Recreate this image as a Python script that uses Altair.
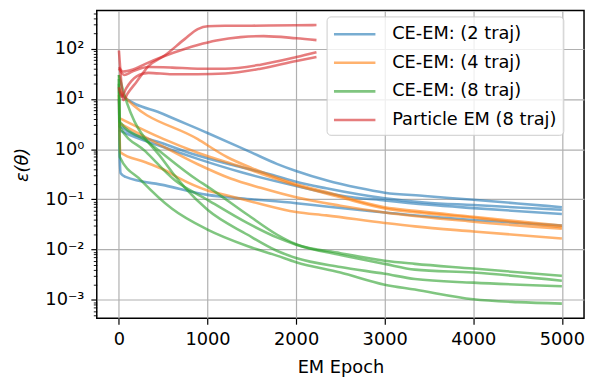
import altair as alt
import pandas as pd

SERIES = ["CE-EM: (2 traj)", "CE-EM: (4 traj)", "CE-EM: (8 traj)", "Particle EM (8 traj)"]
COLORS = ["#1f77b4", "#ff7f0e", "#2ca02c", "#d62728"]

# CE-EM (2 traj) — blue runs
b1_x = [0, 30, 500, 1000, 1500, 1782, 2000, 2340, 2700, 3000, 3452, 4000, 4500, 5000]
b1_y = [14, 12, 5.0, 2.1, 0.85, 0.51, 0.367, 0.24, 0.17, 0.136, 0.117, 0.098, 0.083, 0.070]
b2_x = [0, 20, 500, 890, 1372, 1782, 2000, 2340, 3000, 3452, 4000, 5000]
b2_y = [3.0, 2.8, 1.3, 0.745, 0.44, 0.29, 0.224, 0.166, 0.105, 0.087, 0.077, 0.062]
b3_x = [0, 20, 500, 890, 1372, 2000, 2500, 3000, 3500, 4000, 5000]
b3_y = [2.4, 2.3, 1.1, 0.64, 0.35, 0.185, 0.12, 0.095, 0.078, 0.067, 0.051]
b4_x = [0, 10, 20, 75, 520, 1000, 1372, 2000, 2340, 3000, 3452, 4000, 5000]
b4_y = [10, 0.6, 0.33, 0.28, 0.19, 0.123, 0.105, 0.084, 0.072, 0.055, 0.046, 0.039, 0.030]

# CE-EM (4 traj) — orange runs
o1_x = [0, 30, 890, 1225, 1500, 2000, 2340, 3000, 3341, 4000, 5000]
o1_y = [16, 13, 1.58, 0.69, 0.42, 0.2, 0.14, 0.07, 0.059, 0.045, 0.030]
o2_x = [0, 500, 890, 1372, 2000, 2500, 3000, 3500, 4000, 5000]
o2_y = [4.2, 1.6, 0.85, 0.45, 0.19, 0.11, 0.066, 0.052, 0.043, 0.028]
o3_x = [0, 400, 890, 1260, 1600, 2000, 2500, 3000, 4000, 5000]
o3_y = [3.3, 1.4, 0.5, 0.26, 0.17, 0.11, 0.075, 0.055, 0.036, 0.026]
o4_x = [0, 15, 300, 520, 668, 1000, 1225, 1500, 2000, 2340, 3000, 3341, 4000, 5000]
o4_y = [12, 0.87, 0.55, 0.38, 0.27, 0.15, 0.12, 0.09, 0.056, 0.048, 0.034, 0.029, 0.023, 0.0166]

# CE-EM (8 traj) — green runs
g1_x = [0, 10, 250, 600, 1000, 1448, 1782, 2000, 2500, 3000, 3341, 4000, 4500, 5000]
g1_y = [30, 0.7, 0.24, 0.065, 0.025, 0.0118, 0.0076, 0.0056, 0.0035, 0.0020, 0.0016, 0.00103, 0.0009, 0.00084]
g2_x = [0, 10, 300, 631, 1000, 1448, 1782, 2000, 2500, 3000, 3341, 4000, 5000]
g2_y = [25, 2.8, 0.9, 0.24, 0.098, 0.034, 0.0175, 0.0125, 0.0078, 0.0052, 0.0040, 0.0035, 0.0024]
g3_x = [0, 10, 300, 890, 1000, 1448, 1782, 2000, 2500, 3000, 3341, 4000, 5000]
g3_y = [20, 3.5, 1.5, 0.24, 0.18, 0.05, 0.02, 0.0128, 0.0085, 0.0060, 0.0052, 0.0042, 0.0030]
g4_x = [0, 56, 500, 1000, 1448, 1782, 2000, 2500, 3000, 3341, 4000, 5000]
g4_y = [30, 13, 0.6, 0.062, 0.02, 0.0095, 0.0068, 0.0045, 0.0033, 0.0026, 0.0022, 0.00187]

# Particle EM (8 traj) — red runs
r1_x = [0, 20, 50, 100, 200, 334, 520, 742, 890, 1002, 1200, 1500, 2000, 2230]
r1_y = [92, 30, 9.5, 13, 22, 45, 74, 155, 245, 280, 285, 287, 292, 295]
r2_x = [0, 50, 150, 300, 500, 750, 890, 1100, 1372, 1634, 2004, 2230]
r2_y = [43, 35, 38, 50, 70, 100, 118, 145, 170, 178, 161, 148]
r3_x = [0, 60, 150, 334, 600, 890, 1200, 1600, 2004, 2230]
r3_y = [40, 30, 35, 43, 42, 40, 40, 48, 68, 85]
r4_x = [0, 30, 80, 200, 334, 600, 890, 1200, 1600, 2004, 2230]
r4_y = [17, 11, 16, 28, 33, 31, 31, 32, 40, 57, 68]

RUNS = [
    (SERIES[0], [(b1_x, b1_y), (b2_x, b2_y), (b3_x, b3_y), (b4_x, b4_y)]),
    (SERIES[1], [(o1_x, o1_y), (o2_x, o2_y), (o3_x, o3_y), (o4_x, o4_y)]),
    (SERIES[2], [(g1_x, g1_y), (g2_x, g2_y), (g3_x, g3_y), (g4_x, g4_y)]),
    (SERIES[3], [(r1_x, r1_y), (r2_x, r2_y), (r3_x, r3_y), (r4_x, r4_y)]),
]

X_TICKS = [0, 1000, 2000, 3000, 4000, 5000]
Y_MAJOR = [1e-3, 1e-2, 1e-1, 1, 10, 100]
Y_LABELS = ["10⁻³", "10⁻²", "10⁻¹", "10⁰", "10¹", "10²"]
Y_DOMAIN = [4.3e-4, 575]
X_DOMAIN = [-250, 5250]

rows = []
for si, (name, runs) in enumerate(RUNS):
    for ri, (xs, ys) in enumerate(runs):
        for x, y in zip(xs, ys):
            rows.append({"series": name, "run": si * 10 + ri, "epoch": x, "err": y})
df = pd.DataFrame(rows)

y_minor = [m * 10.0 ** k for k in range(-4, 3) for m in range(2, 10)
           if Y_DOMAIN[0] <= m * 10.0 ** k <= Y_DOMAIN[1]]
is_major = "abs(log(datum.value)/LN10 - round(log(datum.value)/LN10)) < 0.001"
arr = "[" + ",".join("'" + s + "'" for s in Y_LABELS) + "]"
label_expr = f"({is_major}) ? {arr}[round(log(datum.value)/LN10)+3] : ''"

FONT = "DejaVu Sans"

chart = alt.Chart(df).mark_line(strokeWidth=2.6, opacity=0.6, interpolate="monotone").encode(
    x=alt.X("epoch:Q",
            scale=alt.Scale(domain=X_DOMAIN, nice=False, zero=False),
            axis=alt.Axis(values=X_TICKS, format="d", title="EM Epoch",
                          labelFontSize=18, titleFontSize=18, titleFontWeight="normal",
                          labelFont=FONT, titleFont=FONT, labelColor="#000", titleColor="#000",
                          tickSize=6, tickWidth=1.2, tickColor="#000", labelPadding=7,
                          titlePadding=10, domain=False, grid=True, gridColor="#b0b0b0",
                          gridWidth=1.2, labelFlush=False)),
    y=alt.Y("err:Q",
            scale=alt.Scale(type="log", domain=Y_DOMAIN, nice=False),
            axis=alt.Axis(values=Y_MAJOR + y_minor, labelExpr=label_expr, title="ε(θ)",
                          labelFontSize=18, titleFontSize=18, titleFontWeight="normal",
                          titleFontStyle="italic",
                          labelFont=FONT, titleFont=FONT, labelColor="#000", titleColor="#000",
                          tickSize={"condition": {"test": is_major, "value": 6}, "value": 3.5},
                          tickWidth={"condition": {"test": is_major, "value": 1.2}, "value": 0.9},
                          tickColor="#000", labelPadding=7, titlePadding=14,
                          domain=False, grid=True, gridColor="#b0b0b0", gridWidth=1.2,
                          gridOpacity={"condition": {"test": is_major, "value": 1}, "value": 0},
                          labelOverlap=False, labelFlush=False)),
    color=alt.Color("series:N",
                    scale=alt.Scale(domain=SERIES, range=COLORS),
                    legend=alt.Legend(title=None, orient="none", legendX=233, legendY=6,
                                      fillColor="rgba(255,255,255,0.8)", strokeColor="#cccccc",
                                      cornerRadius=4, padding=6, symbolType="M-2,0L2,0",
                                      symbolSize=441, symbolStrokeWidth=2.6, symbolOpacity=0.6,
                                      symbolOffset=10.5,
                                      labelFontSize=18, labelFont=FONT, labelColor="#000",
                                      labelLimit=400, rowPadding=8, labelOffset=26)),
    detail="run:N",
).properties(
    width=494, height=312,
    autosize=alt.AutoSizeParams(type="none"),
    padding={"left": 90, "top": 0, "right": 2, "bottom": 57},
).configure_view(stroke="#000", strokeWidth=1.5)

chart.save("out.html", embed_options={"renderer": "svg", "actions": False})
